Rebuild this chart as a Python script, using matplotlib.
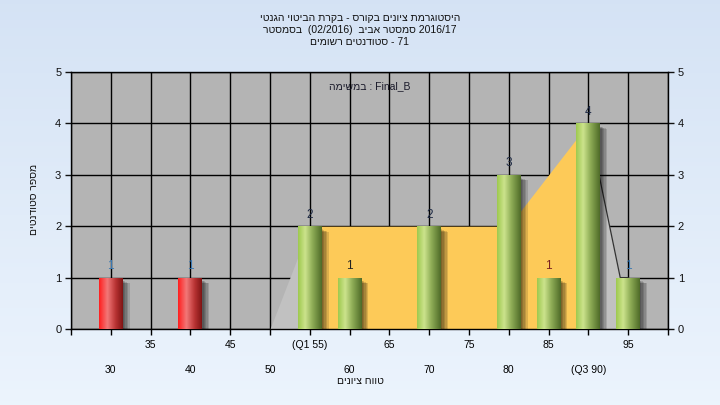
import re
import numpy as np
import matplotlib
matplotlib.use('Agg')
import matplotlib.pyplot as plt

plt.rcParams['font.family'] = ['Liberation Sans', 'DejaVu Sans']

# data
grades = [30, 40, 55, 60, 70, 80, 85, 90, 95]
counts = [1, 1, 2, 1, 2, 3, 1, 4, 1]
fail_below = 50

area_x = [50, 55, 60, 65, 70, 75, 80, 85, 90, 94, 95]
area_y = [0, 2, 2, 2, 2, 2, 2, 3, 4, 1, 1]
q1, q3 = 55, 90

odd_ticks = [25, 35, 45, 55, 65, 75, 85, 95, 100]
odd_labels = ['', '35', '45', '(Q1 55)', '65', '75', '85', '95', '']
even_ticks = [30, 40, 50, 60, 70, 80, 90]
even_labels = ['30', '40', '50', '60', '70', '80', '(Q3 90)']

title_lines = ['היסטוגרמת ציונים בקורס - בקרת הביטוי הגנטי',
               'בסמסטר  (02/2016)  סמסטר אביב 2016/17',
               'סטודנטים רשומים - 71']
list_text = 'במשימה : Final_B'
xlabel = 'טווח ציונים'
ylabel = 'מספר סטודנטים'

label_colors = ['#3b78b0', '#3b78b0', '#1e2a44', '#222222', '#1e2a44',
                '#1e2a44', '#7a2020', '#1e2a44', '#3b78b0']


def heb(s):
    # matplotlib has no bidi: flip each Hebrew run by hand
    return re.sub(r'[\u0590-\u05FF](?:[\s\-:]*[\u0590-\u05FF])*',
                  lambda m: m.group(0)[::-1], s)


def gradient(stops):
    t = np.linspace(0, 1, 64)
    pos = [p for p, _ in stops]
    cols = np.array([c for _, c in stops])
    row = np.stack([np.interp(t, pos, cols[:, i]) for i in range(3)], axis=1)
    return row[np.newaxis, :, :]


green = gradient([(0, (0.62, 0.79, 0.31)), (0.3, (0.80, 0.89, 0.55)),
                  (0.6, (0.56, 0.68, 0.34)), (1, (0.31, 0.42, 0.16))])
red = gradient([(0, (1.0, 0.12, 0.12)), (0.35, (0.95, 0.47, 0.47)),
                (0.7, (0.72, 0.2, 0.2)), (1, (0.5, 0.08, 0.08))])

fig = plt.figure(figsize=(7.2, 4.05), dpi=100)

bg = fig.add_axes([0, 0, 1, 1], zorder=-10)
vgrad = np.linspace(0, 1, 100)[:, None]
top_c = np.array([0.835, 0.89, 0.96])
bot_c = np.array([0.925, 0.957, 0.992])
bg.imshow(top_c + (bot_c - top_c) * vgrad[:, :, None] * np.ones((1, 2, 1)),
          aspect='auto', extent=[0, 1, 0, 1])
bg.axis('off')

ax = fig.add_axes([71 / 720, 76 / 405, 597 / 720, 257 / 405])
ax.set_facecolor('#b4b4b4')
ax.set_axisbelow(True)

ax_ = np.array(area_x)
ay_ = np.array(area_y)
ax.fill_between(ax_, ay_, where=ax_ <= q1, color='#c1c1c1', lw=0, zorder=1.5)
ax.fill_between(ax_, ay_, where=(ax_ >= q1) & (ax_ <= q3), color='#fdca58', lw=0, zorder=1.5)
ax.fill_between(ax_, ay_, where=ax_ >= q3, color='#c1c1c1', lw=0, zorder=1.5)
ax.plot(ax_[ax_ >= q3], ay_[ax_ >= q3], color='#333333', lw=0.9, zorder=1.6)

bw = 3
for i, (x, h) in enumerate(zip(grades, counts)):
    # soft shadow
    for k in range(1, 6):
        left = x - bw / 2 + 0.5
        w = bw - 0.5 + 0.17 * k
        ax.bar(left + w / 2, h - 0.05 - 0.012 * k, width=w, bottom=0, color='black',
               alpha=0.13, lw=0, zorder=2)
    bar = ax.bar(x, h, width=bw, color='none', lw=0, zorder=3)[0]
    img = red if x < fail_below else green
    im = ax.imshow(img, extent=[x - bw / 2, x + bw / 2, 0, h], aspect='auto',
                   interpolation='bilinear', zorder=3)
    im.set_clip_path(bar)
    ax.annotate(str(h), (x, h), xytext=(0, 4), textcoords='offset points',
                ha='center', va='bottom', fontsize=8.5, color=label_colors[i],
                zorder=5)

ax.set_xlim(25, 100)
ax.set_ylim(0, 5)

ax.set_xticks(even_ticks)
ax.set_xticklabels(even_labels)
ax.set_xticks(odd_ticks, minor=True)
ax.set_xticklabels(odd_labels, minor=True)
ax.tick_params(axis='x', which='minor', length=4, width=1, pad=4, labelsize=7.5, colors='black')
ax.tick_params(axis='x', which='major', length=4, width=1, pad=22, labelsize=7.5, colors='black')
ax.set_yticks(range(6))
ax.tick_params(axis='y', left=True, right=True, labelleft=True, labelright=True,
               length=4, width=1, pad=3, labelsize=8, colors='#111111')

ax.grid(True, which='both', color='black', lw=1.0)
for s in ax.spines.values():
    s.set_color('black')
    s.set_linewidth(1.0)

ax.text(0.5, 0.945, heb(list_text), transform=ax.transAxes, ha='center',
        va='center', fontsize=7.5, color='#1a1a2a')

for j, line in enumerate(title_lines):
    fig.text(0.5, 1 - (18 + 12 * j) / 405, heb(line), ha='center', va='center',
             fontsize=7.5, color='#111111')

fig.text(360 / 720, 1 - 381 / 405, heb(xlabel), ha='center', va='center',
         fontsize=7.5, color='#111111')
fig.text(34 / 720, 1 - 199 / 405, heb(ylabel), ha='center', va='center',
         rotation=90, fontsize=7.5, color='#111111')

fig.savefig('out.png', dpi=100)
